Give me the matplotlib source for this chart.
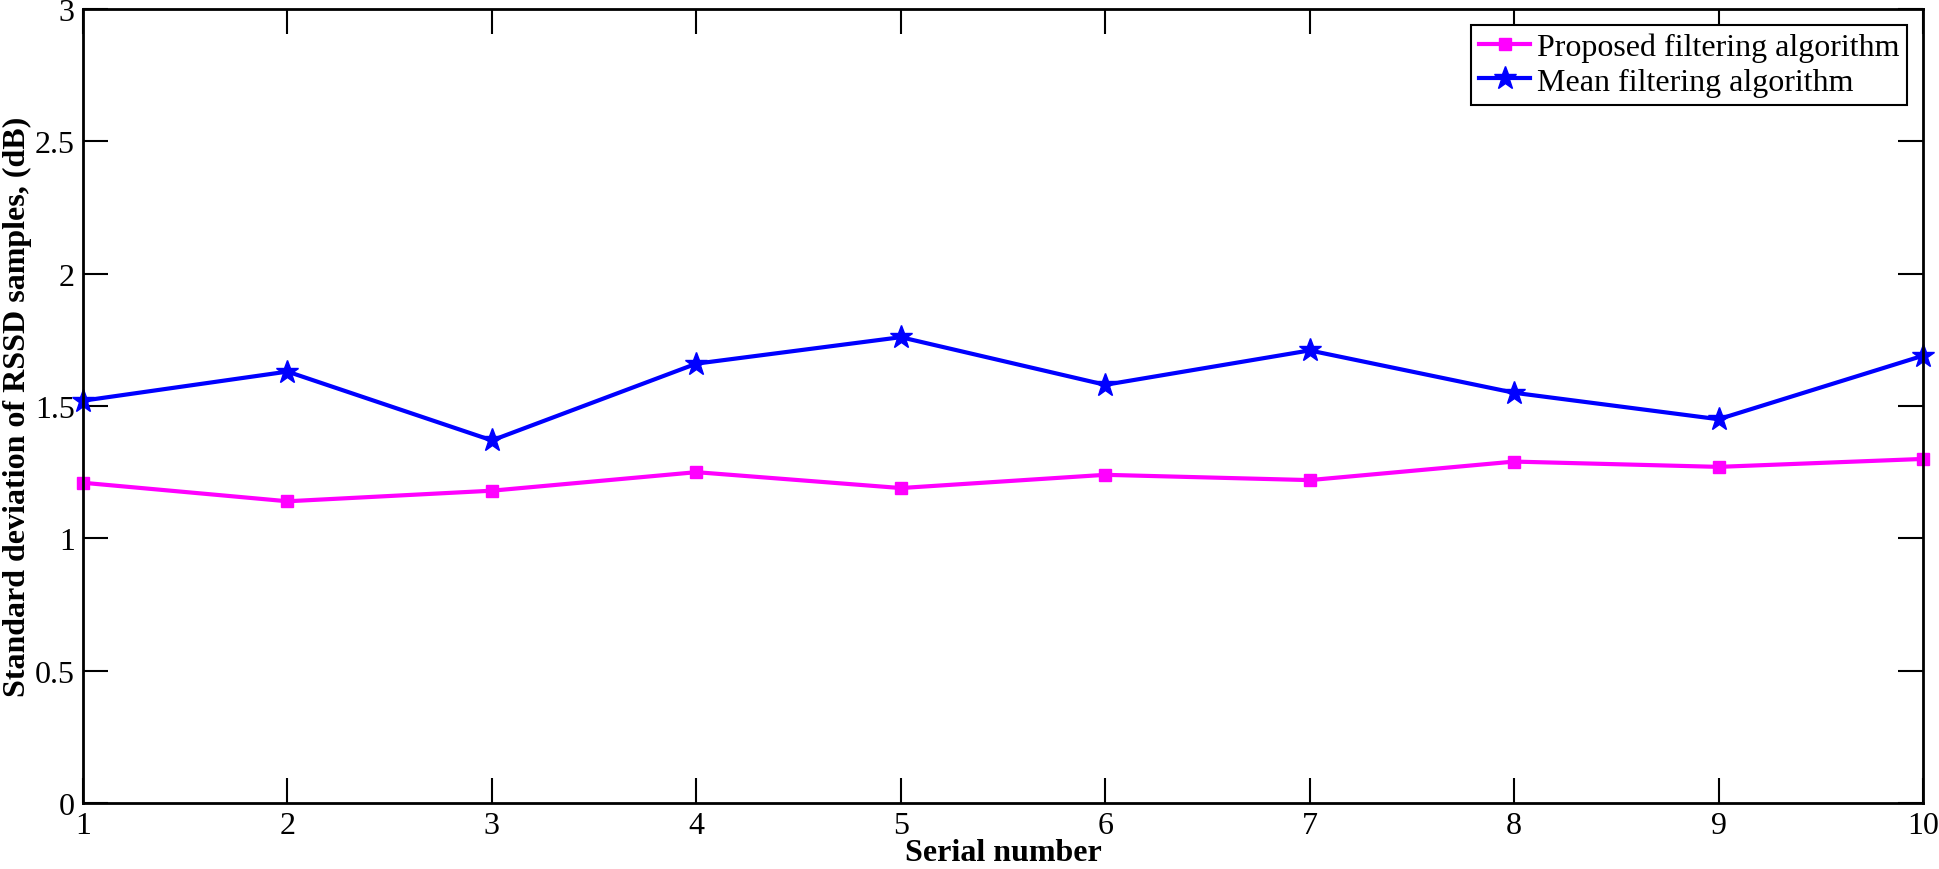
import matplotlib
matplotlib.use('Agg')
import matplotlib.pyplot as plt
import numpy as np

serial = [1, 2, 3, 4, 5, 6, 7, 8, 9, 10]
proposed = [1.21, 1.14, 1.18, 1.25, 1.19, 1.24, 1.22, 1.29, 1.27, 1.30]
mean_filt = [1.52, 1.63, 1.37, 1.66, 1.76, 1.58, 1.71, 1.55, 1.45, 1.69]
yticks = [0, 0.5, 1, 1.5, 2, 2.5, 3]
ytick_labels = ['0', '0.5', '1', '1.5', '2', '2.5', '3']

plt.rcParams['font.family'] = ['Liberation Serif', 'DejaVu Serif']
plt.rcParams['mathtext.fontset'] = 'stix'

fig = plt.figure(figsize=(19.4, 8.7), dpi=100)
ax = fig.add_axes([83 / 1940, 1 - 804 / 870, (1923 - 83) / 1940, (804 - 10) / 870])

ax.plot(serial, proposed, color='#ff00ff', lw=3, marker='s', ms=9,
        label='Proposed filtering algorithm', clip_on=False)
ax.plot(serial, mean_filt, color='#0000ff', lw=3, marker='*', ms=17,
        label='Mean filtering algorithm', clip_on=False)

ax.set_xlim(1, 10)
ax.set_ylim(0, 3)
ax.set_xticks(serial)
ax.set_yticks(yticks)
ax.set_yticklabels(ytick_labels)
ax.tick_params(direction='in', length=18, width=1.5, top=True, right=True,
               labelsize=23, pad=6)
for s in ax.spines.values():
    s.set_linewidth(2)

ax.set_xlabel('Serial number', fontsize=23, fontweight='bold', labelpad=-2)
ax.set_ylabel('Standard deviation of RSSD samples, (dB)', fontsize=23,
              fontweight='bold', labelpad=2)

leg = ax.legend(loc='upper right', fontsize=23, fancybox=False, framealpha=1,
                edgecolor='black', handlelength=1.6, handletextpad=0.2,
                borderpad=0.25, labelspacing=0.15, borderaxespad=0.5)
leg.get_frame().set_linewidth(1.5)

fig.savefig('out.png', dpi=100)
